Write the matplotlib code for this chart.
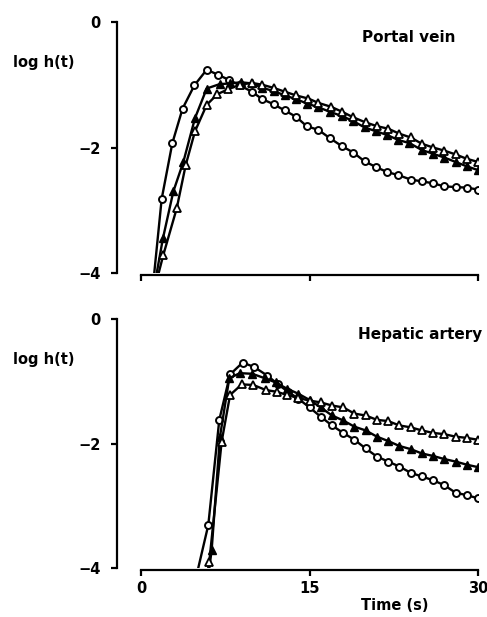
import matplotlib
matplotlib.use("Agg")
import matplotlib.pyplot as plt

plt.rcParams['font.family'] = ['DejaVu Sans']
plt.rcParams['font.weight'] = 'bold'

# ---------------- Portal vein ----------------
pv_circle_t = [0.9, 1.84, 2.79, 3.7, 4.75, 5.85, 6.85, 7.8, 8.8, 9.86, 10.8, 11.8, 12.8, 13.8, 14.75,
               15.8, 16.8, 17.9, 18.9, 19.9, 20.9, 21.9, 22.9, 24.0, 25.0, 26.0, 27.0, 28.0, 29.0, 30.0]
pv_circle_v = [-4.5, -2.82, -1.93, -1.38, -1.01, -0.76, -0.84, -0.92, -1.01, -1.11, -1.23, -1.31, -1.41, -1.51, -1.66,
               -1.72, -1.85, -1.98, -2.08, -2.22, -2.31, -2.39, -2.44, -2.51, -2.54, -2.57, -2.62, -2.63, -2.64, -2.67]

pv_filled_t = [1.0, 1.95, 2.88, 3.77, 4.81, 5.85, 7.0, 7.9, 8.9, 9.9, 10.8, 11.8, 12.8, 13.8, 14.8,
               15.8, 16.8, 17.9, 18.9, 19.9, 20.9, 21.9, 22.9, 23.9, 25.0, 26.0, 27.0, 28.0, 29.0, 30.0]
pv_filled_v = [-4.4, -3.45, -2.70, -2.23, -1.53, -1.06, -0.99, -0.98, -0.96, -0.98, -1.05, -1.10, -1.17, -1.23, -1.30,
               -1.36, -1.43, -1.50, -1.58, -1.68, -1.74, -1.80, -1.88, -1.93, -2.04, -2.10, -2.16, -2.23, -2.30, -2.36]

pv_open_t = [1.0, 1.99, 3.18, 3.98, 4.81, 5.85, 6.8, 7.78, 8.8, 9.86, 10.8, 11.8, 12.8, 13.8, 14.9,
             15.8, 16.9, 17.9, 18.9, 20.0, 21.0, 22.0, 23.0, 24.0, 25.0, 26.0, 27.0, 28.0, 29.0, 30.0]
pv_open_v = [-4.4, -3.71, -2.97, -2.28, -1.74, -1.32, -1.15, -1.07, -1.00, -0.97, -1.00, -1.05, -1.11, -1.17, -1.22,
             -1.29, -1.35, -1.43, -1.52, -1.60, -1.66, -1.70, -1.78, -1.84, -1.94, -2.00, -2.05, -2.11, -2.18, -2.23]

# ---------------- Hepatic artery ----------------
ha_circle_t = [4.8, 5.99, 6.97, 7.93, 9.05, 10.06, 11.25, 12.2, 13.1, 14.0, 15.0, 16.0, 17.0, 18.0, 19.0,
               20.0, 21.0, 22.0, 23.0, 24.0, 25.0, 26.0, 27.0, 28.0, 29.0, 30.0]
ha_circle_v = [-4.23, -3.31, -1.62, -0.89, -0.70, -0.77, -0.91, -1.05, -1.17, -1.28, -1.42, -1.57, -1.71, -1.83, -1.94,
               -2.08, -2.21, -2.29, -2.37, -2.47, -2.53, -2.59, -2.67, -2.79, -2.83, -2.88]

ha_filled_t = [5.8, 6.29, 7.03, 7.86, 8.8, 9.9, 11.0, 12.0, 13.0, 14.0, 15.0, 16.0, 17.0, 18.0, 19.0,
               20.0, 21.0, 22.0, 23.0, 24.0, 25.0, 26.0, 27.0, 28.0, 29.0, 30.0]
ha_filled_v = [-4.4, -3.71, -1.89, -0.95, -0.87, -0.88, -0.95, -1.02, -1.12, -1.20, -1.30, -1.42, -1.55, -1.63, -1.73,
               -1.79, -1.89, -1.96, -2.04, -2.09, -2.16, -2.20, -2.25, -2.29, -2.34, -2.38]

ha_open_t = [5.7, 6.08, 7.18, 7.93, 8.97, 10.0, 11.1, 12.1, 13.0, 14.0, 15.0, 16.0, 17.0, 18.0, 19.0,
             20.0, 21.0, 22.0, 23.0, 24.0, 25.0, 26.0, 27.0, 28.0, 29.0, 30.0]
ha_open_v = [-4.3, -3.9, -1.97, -1.22, -1.05, -1.06, -1.14, -1.17, -1.22, -1.27, -1.31, -1.34, -1.39, -1.42, -1.52,
             -1.55, -1.62, -1.64, -1.71, -1.74, -1.79, -1.83, -1.85, -1.89, -1.91, -1.94]

panels = [
    ("Portal vein", pv_circle_t, pv_circle_v, pv_filled_t, pv_filled_v, pv_open_t, pv_open_v),
    ("Hepatic artery", ha_circle_t, ha_circle_v, ha_filled_t, ha_filled_v, ha_open_t, ha_open_v),
]

W, H = 487, 617
PX = 72 / 100  # points per pixel
fig = plt.figure(figsize=(W / 100, H / 100), dpi=100)

# pixel boxes: (left, right, top(y=0), bottom(y=-4))
boxes = [(141, 478, 22, 273), (141, 478, 319, 568)]
FS = 10.5

for i, (box, panel) in enumerate(zip(boxes, panels)):
    l, r, t, b = box
    ax = fig.add_axes([l / W, 1 - b / H, (r - l) / W, (b - t) / H])
    title, ct, cv, ft, fv, ot, ov = panel

    lw = 1.7
    ax.plot(ct, cv, '-', color='black', lw=lw, marker='o', ms=5.0,
            mfc='white', mec='black', mew=1.4, zorder=3)
    ax.plot(ft, fv, '-', color='black', lw=lw, marker='^', ms=5.6,
            mfc='black', mec='black', mew=1.0, zorder=4)
    ax.plot(ot, ov, '-', color='black', lw=lw, marker='^', ms=5.6,
            mfc='white', mec='black', mew=1.3, zorder=5)

    ax.set_xlim(0, 30)
    ax.set_ylim(-4, 0)
    for s in ['top', 'right']:
        ax.spines[s].set_visible(False)
    ax.spines['left'].set_position(('outward', 24 * PX))
    ax.spines['bottom'].set_position(('outward', 2 * PX))
    ax.spines['left'].set_linewidth(1.6)
    ax.spines['bottom'].set_linewidth(1.6)
    ax.set_yticks([0, -2, -4])
    ax.set_yticklabels(['0', '\u22122', '\u22124'])
    ax.set_xticks([0, 15, 30])
    ax.tick_params(axis='y', direction='out', length=4, width=1.6,
                   labelsize=FS, pad=8)
    ax.tick_params(axis='x', direction='out', length=4, width=1.6,
                   labelsize=FS, pad=4)
    if i == 0:
        ax.set_xticklabels([])
    else:
        ax.set_xticklabels(['0', '15', '30'])
    for lab in ax.get_xticklabels() + ax.get_yticklabels():
        lab.set_fontweight('bold')

    fig.text(13 / W, 1 - (t + 41) / H, 'log h(t)', fontsize=FS,
             fontweight='bold', ha='left', va='center')
    fig.text(455 / W if i == 0 else 482 / W, 1 - (t + 15) / H, title,
             fontsize=11, fontweight='bold', ha='right', va='center')

fig.text(395 / W, 1 - 605 / H, 'Time (s)', fontsize=FS, fontweight='bold',
         ha='center', va='center')

fig.savefig('out.png', dpi=100)
